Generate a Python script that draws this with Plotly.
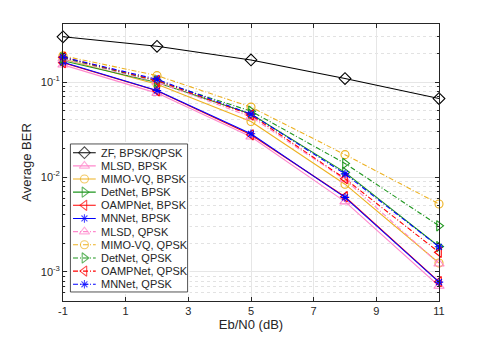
import numpy as np
import plotly.graph_objects as go

# ── data ──────────────────────────────────────────────────────────────
ebn0 = [-1, 2, 5, 8, 11]

zf_both = [0.30, 0.238, 0.171, 0.109, 0.067]
mlsd_bpsk = [0.152, 0.0765, 0.0265, 0.0055, 0.00071]
mimovq_bpsk = [0.175, 0.095, 0.0384, 0.0084, 0.00124]
detnet_bpsk = [0.168, 0.099, 0.046, 0.0112, 0.00185]
oamp_bpsk = [0.160, 0.081, 0.0278, 0.0062, 0.00079]
mnnet_bpsk = [0.162, 0.0815, 0.0285, 0.0061, 0.00078]
mlsd_qpsk = [0.176, 0.100, 0.043, 0.0094, 0.00122]
mimovq_qpsk = [0.189, 0.117, 0.0545, 0.0172, 0.0052]
detnet_qpsk = [0.180, 0.103, 0.0494, 0.0139, 0.00306]
oamp_qpsk = [0.183, 0.104, 0.045, 0.0096, 0.00161]
mnnet_qpsk = [0.183, 0.107, 0.046, 0.0108, 0.00184]

x_ticks = [-1, 1, 3, 5, 7, 9, 11]
x_ticktext = ['-1', '1', '3', '5', '7', '9', '11']
y_ticks = [1e-3, 1e-2, 1e-1]
y_ticktext = ['10<sup>-3</sup>', '10<sup>-2</sup>', '10<sup>-1</sup>']

_BLK = '#000000'
_PNK = '#FF88CC'
_ORG = '#EDB120'
_GRN = '#1E961E'
_RED = '#FF0000'
_BLU = '#0000FF'
_DD = '5px,2px,1px,2px'

series = [
    ('ZF, BPSK/QPSK', zf_both, _BLK, 'diamond-open', 9, 'solid'),
    ('MLSD, BPSK', mlsd_bpsk, _PNK, 'triangle-up-open', 9, 'solid'),
    ('MIMO-VQ, BPSK', mimovq_bpsk, _ORG, 'circle-open', 8, 'solid'),
    ('DetNet, BPSK', detnet_bpsk, _GRN, 'triangle-right-open', 9, 'solid'),
    ('OAMPNet, BPSK', oamp_bpsk, _RED, 'triangle-left-open', 9, 'solid'),
    ('MNNet, BPSK', mnnet_bpsk, _BLU, 'asterisk-open', 7, 'solid'),
    ('MLSD, QPSK', mlsd_qpsk, _PNK, 'triangle-up-open', 9, _DD),
    ('MIMO-VQ, QPSK', mimovq_qpsk, _ORG, 'circle-open', 8, _DD),
    ('DetNet, QPSK', detnet_qpsk, _GRN, 'triangle-right-open', 9, _DD),
    ('OAMPNet, QPSK', oamp_qpsk, _RED, 'triangle-left-open', 9, _DD),
    ('MNNet, QPSK', mnnet_qpsk, _BLU, 'asterisk-open', 7, _DD),
]

# page body has an 8px margin → figure sits at (8, 8) in the window
OFF = 8
W, H = 485 - OFF, 337 - OFF
PL, PR, PT, PB = 63.3 - OFF, 438.7 - OFF, 24.3 - OFF, 300.7 - OFF

fig = go.Figure()
for name, ys, clr, sym, sz, dash in series:
    fig.add_trace(go.Scatter(
        x=ebn0, y=ys, mode='lines+markers', name=name, showlegend=False,
        line=dict(color=clr, width=1.1, dash=dash),
        marker=dict(symbol=sym, size=sz, color=clr,
                    line=dict(color=clr, width=1.1)),
        cliponaxis=False,
    ))

# ── hand-made legend (MATLAB-style compact rows) on its own subplot ──
LL, LR, LT, LB = 70.7, 187.7, 144.0, 291.7     # legend box in window px
row0, rowh = 152.7, 13.13
pad = 2
fig.add_trace(go.Scatter(
    x=[LL, LR, LR, LL, LL], y=[LT, LT, LB, LB, LT], mode='lines',
    fill='toself', fillcolor='white', line=dict(color='#262626', width=0.8),
    xaxis='x2', yaxis='y2', showlegend=False, hoverinfo='skip'))
annots = []
for i, (name, ys, clr, sym, sz, dash) in enumerate(series):
    yy = row0 + rowh * i
    fig.add_trace(go.Scatter(
        x=[73.3, 84.7, 96.0], y=[yy, yy, yy], mode='lines+markers',
        line=dict(color=clr, width=1.1, dash=dash),
        marker=dict(symbol=sym, size=[0, sz, 0], color=clr,
                    line=dict(color=clr, width=1.1)),
        xaxis='x2', yaxis='y2', showlegend=False, hoverinfo='skip',
        cliponaxis=False))
    annots.append(dict(x=99.5, y=yy, xref='x2', yref='y2', text=name,
                       showarrow=False, xanchor='left', yanchor='middle',
                       font=dict(size=11, color='#262626')))

wl, wr, wt, wb = PL + OFF, PR + OFF, PT + OFF, PB + OFF   # plot area, window px

fig.update_layout(
    width=W, height=H,
    margin=dict(l=PL, r=W - PR, t=PT, b=H - PB, pad=0),
    paper_bgcolor='white', plot_bgcolor='white',
    font=dict(family='Liberation Sans, Arial', size=11, color='#262626'),
    annotations=annots,
    xaxis=dict(
        range=[-1, 11], tickvals=x_ticks, ticktext=x_ticktext,
        ticks='inside', ticklen=4, automargin=False,
        tickcolor='#262626', showline=True, linecolor='#262626',
        linewidth=0.8, mirror='ticks', showgrid=True, gridcolor='#E6E6E6',
        zeroline=False, title=dict(text='Eb/N0 (dB)', standoff=2),
        tickfont=dict(size=11), domain=[0, 1]),
    yaxis=dict(
        type='log', range=[np.log10(4.94e-4), np.log10(0.409)],
        tickvals=y_ticks, ticktext=y_ticktext, ticks='inside', ticklen=4,
        automargin=False,
        tickcolor='#262626', showline=True, linecolor='#262626',
        linewidth=0.8, mirror='ticks', showgrid=True, gridcolor='#E6E6E6',
        zeroline=False, title=dict(text='Average BER', standoff=6),
        tickfont=dict(size=11),
        minor=dict(tickvals=[m * 10.0 ** e for e in (-4, -3, -2, -1)
                             for m in range(2, 10)],
                   ticks='inside', ticklen=2, tickcolor='#262626',
                   showgrid=True, gridcolor='#E2E2E2', griddash='dot',
                   gridwidth=1)),
    xaxis2=dict(domain=[(LL - pad - wl) / (wr - wl), (LR + pad - wl) / (wr - wl)],
                range=[LL - pad, LR + pad], anchor='y2', visible=False,
                fixedrange=True),
    yaxis2=dict(domain=[(wb - LB - pad) / (wb - wt), (wb - LT + pad) / (wb - wt)],
                range=[LB + pad, LT - pad], anchor='x2', visible=False,
                fixedrange=True),
)

fig.write_html("out.html")
